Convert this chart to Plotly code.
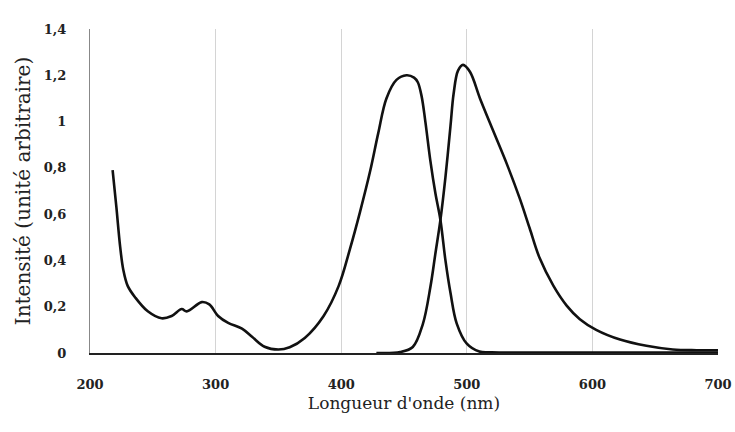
import plotly.graph_objects as go

# Absorption (left) spectrum
abs_nm = [218, 221, 224, 226.5, 230, 236, 246, 257, 265, 273, 277, 289, 295, 302, 310, 321, 329, 339, 350, 359,
          371, 386, 398, 407, 415, 423, 429.5, 436, 444, 452, 458, 461, 464, 467, 471, 475, 479, 483, 487, 492, 500,
          510, 520, 600, 700]
abs_val = [0.79, 0.63, 0.46, 0.36, 0.29, 0.24, 0.18, 0.15, 0.16, 0.19, 0.18, 0.22, 0.21, 0.16, 0.13, 0.105, 0.07,
           0.027, 0.015, 0.025, 0.065, 0.16, 0.29, 0.45, 0.61, 0.785, 0.95, 1.10, 1.18, 1.20, 1.19, 1.17, 1.11, 1.00,
           0.83, 0.69, 0.575, 0.40, 0.26, 0.127, 0.04, 0.006, 0.003, 0.002, 0.002]

# Emission (right) spectrum
em_nm = [428, 447, 457, 465, 471, 475, 479, 483, 487, 489.5, 493, 497, 502.5, 510.5, 521, 532, 542, 550, 558, 569,
         579.5, 590, 603, 622, 643, 664, 683, 700]
em_val = [0, 0.004, 0.026, 0.125, 0.285, 0.43, 0.575, 0.76, 0.98, 1.12, 1.22, 1.245, 1.215, 1.10, 0.96, 0.815, 0.67,
          0.54, 0.41, 0.29, 0.205, 0.146, 0.10, 0.058, 0.031, 0.015, 0.012, 0.012]

x_ticks = [200, 300, 400, 500, 600, 700]
y_ticks = [0, 0.2, 0.4, 0.6, 0.8, 1, 1.2, 1.4]

fig = go.Figure()
line_style = dict(color="#111111", width=2.6, shape="spline", smoothing=1.0)
fig.add_trace(go.Scatter(x=abs_nm, y=abs_val, mode="lines", line=line_style, name="Absorption"))
fig.add_trace(go.Scatter(x=em_nm, y=em_val, mode="lines", line=line_style, name="Émission"))

serif = "DejaVu Serif"
fig.update_layout(
    width=735, height=432,
    margin=dict(l=90, r=17, t=29, b=79, autoexpand=False),
    paper_bgcolor="white", plot_bgcolor="white",
    showlegend=False,
    separators=", ",
    font=dict(family=serif, color="#222222"),
)
fig.update_xaxes(
    range=[200, 700], tickvals=x_ticks, ticks="", ticklabelstandoff=18,
    tickfont=dict(family=serif, size=13, color="#222222", weight="bold"),
    showgrid=True, gridcolor="#d4d4d4", gridwidth=1,
    showline=True, linecolor="#222222", linewidth=2, zeroline=False,
    title=dict(text="Longueur d'onde (nm)", font=dict(family=serif, size=17, color="#222222"), standoff=7),
)
fig.update_yaxes(
    range=[0, 1.4], tickvals=y_ticks, ticks="", ticklabelstandoff=20,
    tickfont=dict(family=serif, size=13, color="#222222", weight="bold"),
    showgrid=False,
    showline=True, linecolor="#888888", linewidth=1, zeroline=False,
    title=dict(text="Intensité (unité arbitraire)", font=dict(family=serif, size=20, color="#222222"), standoff=7),
)

fig.write_html("out.html")
